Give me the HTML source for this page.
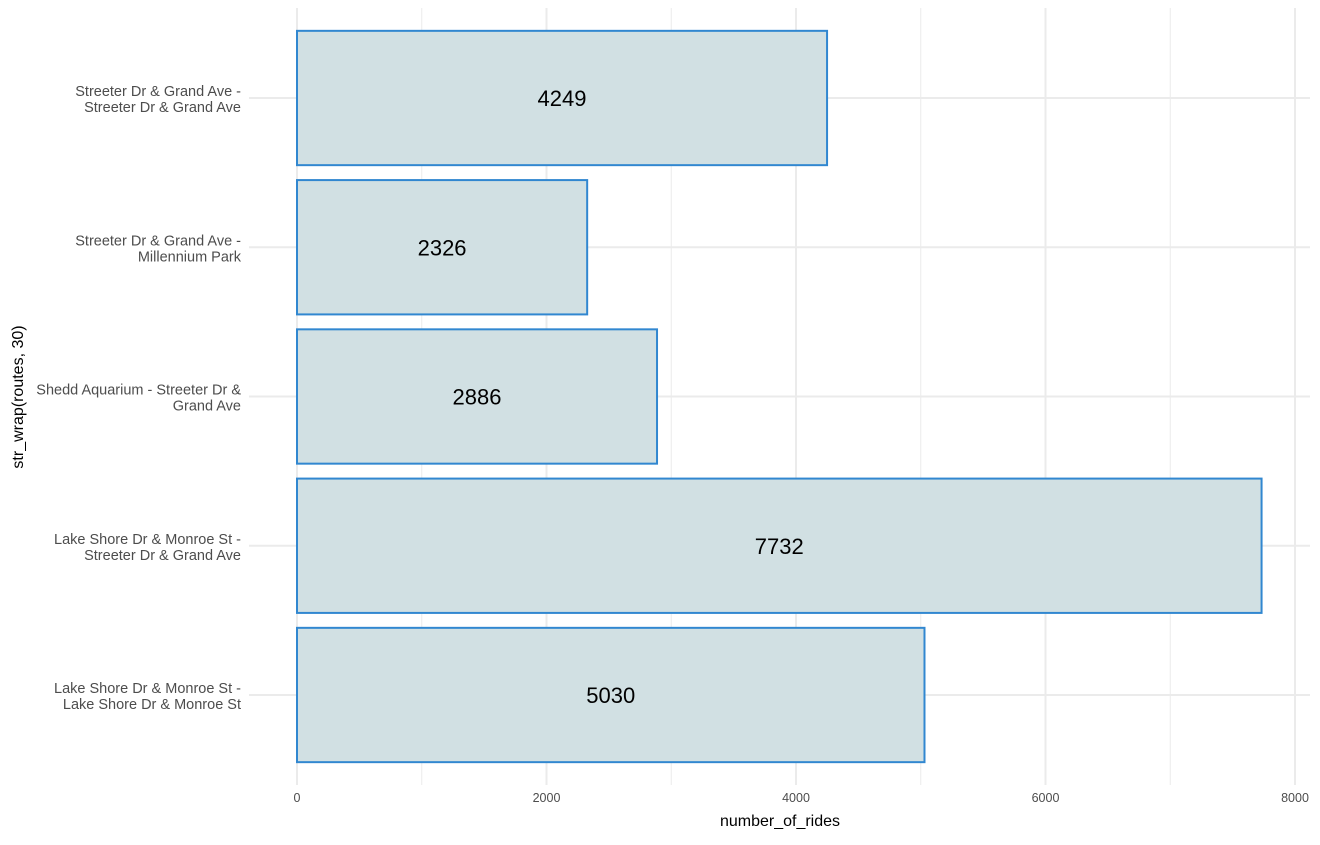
<!DOCTYPE html>
<html><head><meta charset="utf-8"><style>
body{margin:0;background:#fff;}
svg text{font-family:"Liberation Sans",Arial,sans-serif;}
</style></head><body>
<svg id="chart" width="1320" height="840"></svg>
<script>
const categories=["Streeter Dr & Grand Ave -|Streeter Dr & Grand Ave","Streeter Dr & Grand Ave -|Millennium Park","Shedd Aquarium - Streeter Dr &|Grand Ave","Lake Shore Dr & Monroe St -|Streeter Dr & Grand Ave","Lake Shore Dr & Monroe St -|Lake Shore Dr & Monroe St"];
const rides=[4249,2326,2886,7732,5030];
const xTicks=[0,2000,4000,6000,8000];
const xMinor=[1000,3000,5000,7000];
const NS="http://www.w3.org/2000/svg";
const svg=document.getElementById('chart');
const X0=297,XS=998/8000;
const x=v=>X0+v*XS;
const yTop=98,step=149.25;
const y=i=>yTop+i*step;
const pTop=8,pBot=785,pL=249,pR=1310;
function mk(t,a,txt){const e=document.createElementNS(NS,t);for(const k in a)e.setAttribute(k,a[k]);if(txt!==undefined)e.textContent=txt;svg.appendChild(e);return e;}
xMinor.forEach(v=>{const l=mk('line',{x1:x(v),x2:x(v),y1:pTop,y2:pBot,stroke:'#ebebeb','stroke-width':1});

});
xTicks.forEach(v=>{const l=mk('line',{x1:x(v),x2:x(v),y1:pTop,y2:pBot,stroke:'#ebebeb','stroke-width':2});


const t=mk('text',{x:x(v),y:802,'text-anchor':'middle','font-size':12.5,fill:'#4d4d4d'},String(v));

});
categories.forEach((c,i)=>{const l=mk('line',{x1:pL,x2:pR,y1:y(i),y2:y(i),stroke:'#ebebeb','stroke-width':2});


const parts=c.split('|');
parts.forEach((p,j)=>{const t=mk('text',{x:241,y:y(i)-2+j*16,'text-anchor':'end','font-size':14.5,fill:'#4d4d4d'},p);

});});
categories.forEach((c,i)=>{const h=step*0.9;
const r=mk('rect',{x:x(0),y:y(i)-h/2,width:x(rides[i])-x(0),height:h,fill:'#d1e0e3',stroke:'#3187d0','stroke-width':2});


const t=mk('text',{x:(x(0)+x(rides[i]))/2,y:y(i)+8,'text-anchor':'middle','font-size':22,fill:'#000'},String(rides[i]));

});
const xt=mk('text',{x:780,y:826,'text-anchor':'middle','font-size':16,fill:'#000'},'number_of_rides');


const yt=mk('text',{x:0,y:0,transform:'translate(23,397) rotate(-90)','text-anchor':'middle','font-size':16,fill:'#000'},'str_wrap(routes, 30)');


</script>
</body></html>
